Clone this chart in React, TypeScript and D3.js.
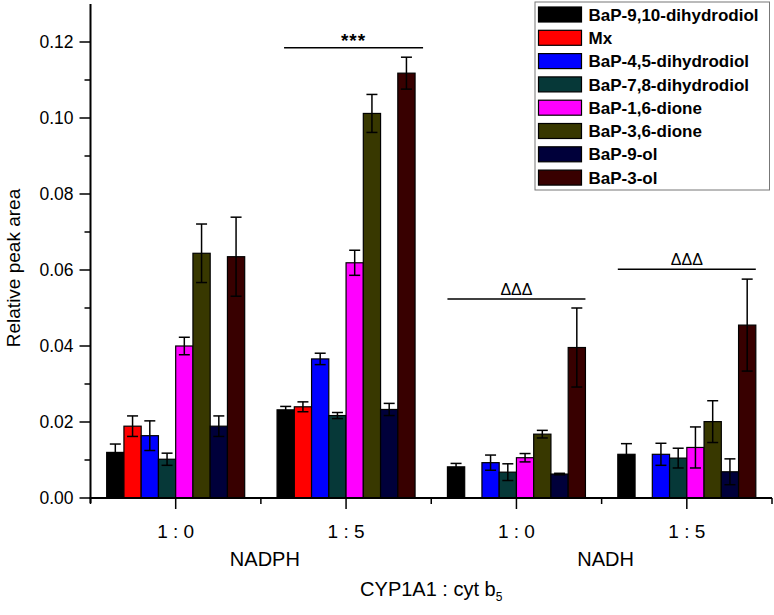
import React from "react";
import * as d3 from "d3";

const seriesNames = [
  "BaP-9,10-dihydrodiol",
  "Mx",
  "BaP-4,5-dihydrodiol",
  "BaP-7,8-dihydrodiol",
  "BaP-1,6-dione",
  "BaP-3,6-dione",
  "BaP-9-ol",
  "BaP-3-ol",
];
const seriesColors = ["#000000", "#ff0000", "#0000ff", "#063838", "#ff00ff", "#383800", "#00003a", "#380000"];

const groupIds = ["NADPH-1:0", "NADPH-1:5", "NADH-1:0", "NADH-1:5"];
const tickLabels = ["1 : 0", "1 : 5", "1 : 0", "1 : 5"];
const cofactors = ["NADPH", "NADH"];

const valuesNADPH10 = [0.012, 0.0189, 0.0164, 0.0102, 0.04, 0.0644, 0.0189, 0.0635];
const errorsNADPH10 = [0.0022, 0.0027, 0.0039, 0.0016, 0.0023, 0.0077, 0.0027, 0.0104];
const valuesNADPH15 = [0.0232, 0.024, 0.0366, 0.0217, 0.0619, 0.1012, 0.0233, 0.1118];
const errorsNADPH15 = [0.0009, 0.0013, 0.0015, 0.0008, 0.0033, 0.005, 0.0016, 0.0042];
const valuesNADH10 = [0.0082, 0, 0.0093, 0.0068, 0.0106, 0.0168, 0.0063, 0.0396];
const errorsNADH10 = [0.0009, 0, 0.002, 0.0022, 0.0011, 0.001, 0.0002, 0.0104];
const valuesNADH15 = [0.0115, 0, 0.0115, 0.0105, 0.0133, 0.0201, 0.0069, 0.0455];
const errorsNADH15 = [0.0028, 0, 0.0029, 0.0026, 0.0054, 0.0055, 0.0034, 0.0121];

const groupValues = [valuesNADPH10, valuesNADPH15, valuesNADH10, valuesNADH15];
const groupErrors = [errorsNADPH10, errorsNADPH15, errorsNADH10, errorsNADH15];

const sigGroups = [1, 2, 3];
const sigLabels = ["***", "ΔΔΔ", "ΔΔΔ"];
const sigLevels = [0.1185, 0.0524, 0.0602];

const yMajorTicks = [0, 0.02, 0.04, 0.06, 0.08, 0.1, 0.12];
const yMinorTicks = [0.01, 0.03, 0.05, 0.07, 0.09, 0.11];

const FONT = "Arial, 'Liberation Sans', sans-serif";

export default function App() {
  const W = 774;
  const H = 615;
  const x0 = 90.5;
  const x1 = 772;
  const yBase = 498;
  const yTop = 4;

  const x = d3.scaleBand<string>().domain(groupIds).range([x0, x1]).padding(0);
  const bw = x.bandwidth();
  const inner = d3
    .scaleBand<string>()
    .domain(seriesNames)
    .range([bw * 0.095, bw * 0.905])
    .padding(0);
  const y = d3.scaleLinear().domain([0, 0.13]).range([yBase, yTop]);
  const barW = inner.bandwidth();
  const capW = 11;

  const bars: any[] = [];
  const errs: any[] = [];
  groupIds.forEach((g, gi) => {
    seriesNames.forEach((s, si) => {
      const v = groupValues[gi][si];
      const e = groupErrors[gi][si];
      if (v <= 0) return;
      const bx = (x(g) as number) + (inner(s) as number);
      bars.push(
        <rect
          key={`b-${g}-${s}`}
          x={bx}
          y={y(v)}
          width={barW}
          height={y(0) - y(v)}
          fill={seriesColors[si]}
          stroke="#000"
          strokeWidth={1.2}
        />
      );
      if (e > 0) {
        const cx = bx + barW / 2;
        errs.push(
          <g key={`e-${g}-${s}`} stroke="#000" strokeWidth={1.5}>
            <line x1={cx} x2={cx} y1={y(v + e)} y2={y(v - e)} />
            <line x1={cx - capW / 2} x2={cx + capW / 2} y1={y(v + e)} y2={y(v + e)} />
            <line x1={cx - capW / 2} x2={cx + capW / 2} y1={y(v - e)} y2={y(v - e)} />
          </g>
        );
      }
    });
  });

  const groupLeft = (gi: number) => (x(groupIds[gi]) as number) + (inner(seriesNames[0]) as number);
  const groupRight = (gi: number) =>
    (x(groupIds[gi]) as number) + (inner(seriesNames[seriesNames.length - 1]) as number) + barW;

  const legendX = 535;
  const legendY = 2;
  const rowH = 23.3;

  return (
    <svg
      width={W}
      height={H}
      style={{ position: "absolute", left: 0, top: 0, background: "#fff" }}
      fontFamily={FONT}
    >
      <rect x={0} y={0} width={W} height={H} fill="#fff" />
      {bars}
      {errs}

      {/* significance annotations */}
      {sigGroups.map((gi, i) => {
        const l = groupLeft(gi) + (gi === 1 ? 7 : 0);
        const r = groupRight(gi) + (gi === 1 ? 8 : 0);
        const ly = y(sigLevels[i]);
        return (
          <g key={`sig-${i}`}>
            <line x1={l} x2={r} y1={ly} y2={ly} stroke="#000" strokeWidth={1.5} />
            <text
              x={(l + r) / 2}
              y={i === 0 ? ly - 1 : ly - 4}
              textAnchor="middle"
              fontSize={i === 0 ? 19 : 16}
              fontWeight={i === 0 ? "bold" : "normal"}
              letterSpacing={i === 0 ? 1 : 0}
            >
              {sigLabels[i]}
            </text>
          </g>
        );
      })}

      {/* Y axis */}
      <line x1={x0} x2={x0} y1={yTop} y2={yBase + 5} stroke="#000" strokeWidth={2} />
      {yMajorTicks.map((t) => (
        <g key={`yt-${t}`}>
          <line x1={x0 - 11} x2={x0} y1={y(t)} y2={y(t)} stroke="#000" strokeWidth={1.5} />
          <text x={x0 - 17} y={y(t)} dy="0.36em" textAnchor="end" fontSize={17.5}>
            {d3.format(".2f")(t)}
          </text>
        </g>
      ))}
      {yMinorTicks.map((t) => (
        <line key={`ym-${t}`} x1={x0 - 6} x2={x0} y1={y(t)} y2={y(t)} stroke="#000" strokeWidth={1.5} />
      ))}
      <text transform={`translate(20, 268) rotate(-90)`} textAnchor="middle" fontSize={19}>
        Relative peak area
      </text>

      {/* X axis */}
      <line x1={x0 - 1} x2={x1} y1={yBase} y2={yBase} stroke="#000" strokeWidth={2} />
      {groupIds.map((g, gi) => {
        const cx = (x(g) as number) + bw / 2;
        return (
          <g key={`xt-${g}`}>
            <line x1={cx} x2={cx} y1={yBase} y2={yBase + 11} stroke="#000" strokeWidth={1.5} />
            <text x={cx} y={yBase + 40} textAnchor="middle" fontSize={19}>
              {tickLabels[gi]}
            </text>
          </g>
        );
      })}
      {[...groupIds.map((g) => x(g) as number), x1].map((ex, i) => (
        <line key={`xm-${i}`} x1={ex} x2={ex} y1={yBase} y2={yBase + 6} stroke="#000" strokeWidth={1.5} />
      ))}
      {cofactors.map((c, ci) => {
        const cx = x(groupIds[ci * 2 + 1]) as number;
        return (
          <text key={`cf-${c}`} x={cx + 4} y={yBase + 68} textAnchor="middle" fontSize={20}>
            {c}
          </text>
        );
      })}
      <text x={(x0 + x1) / 2} y={yBase + 98} textAnchor="middle" fontSize={20}>
        CYP1A1 : cyt b
        <tspan fontSize={12} dy={5}>5</tspan>
      </text>

      {/* Legend */}
      <rect x={legendX} y={legendY} width={234.5} height={188} fill="#fff" stroke="#777" strokeWidth={1} />
      {seriesNames.map((s, si) => (
        <g key={`lg-${s}`} transform={`translate(${legendX + 3.5}, ${legendY + 12.5 + si * rowH})`}>
          <rect x={0} y={-7.5} width={43} height={15} fill={seriesColors[si]} stroke="#000" strokeWidth={1.2} />
          <text x={50} y={0} dy="0.36em" fontSize={17} fontWeight="bold">
            {s}
          </text>
        </g>
      ))}
    </svg>
  );
}
